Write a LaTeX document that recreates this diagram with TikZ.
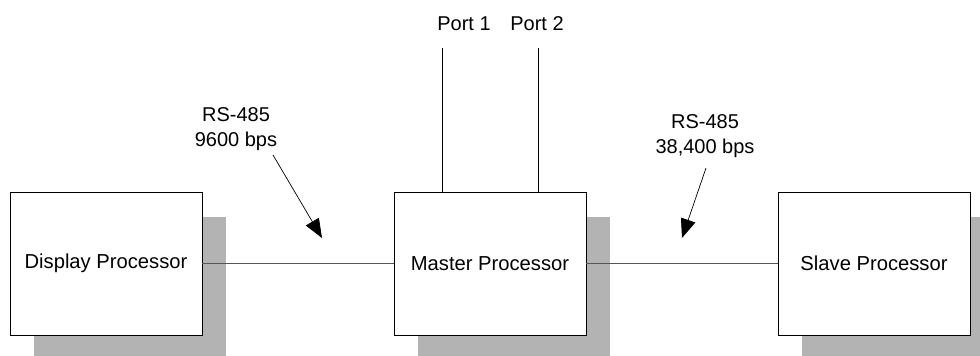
\documentclass[tikz,border=0pt]{standalone}
\usepackage{fontspec}
\setmainfont{Liberation Sans}
\usetikzlibrary{shadows,calc,arrows.meta}
\definecolor{shadowgray}{HTML}{B3B3B3}
\definecolor{linkgray}{HTML}{555555}
\begin{document}
\begin{tikzpicture}[x=1pt,y=-1pt,
  procbox/.style={draw=black,line width=0.8pt,fill=white,minimum width=192pt,minimum height=143pt,inner sep=0pt,
    font=\fontsize{20.2}{25}\selectfont,
    drop shadow={shadow xshift=24pt,shadow yshift=-25pt,fill=shadowgray,opacity=1}},
  link/.style={draw=linkgray,line width=1.1pt},
  portline/.style={draw=black,line width=0.8pt},
  lbl/.style={inner sep=0pt,align=center,font=\fontsize{20}{25}\selectfont},
  pointer/.style={draw=black,line width=0.7pt,-{Triangle[length=19pt,width=15pt]}}
]
\clip (0,0) rectangle (980,356);
\fill[white] (0,0) rectangle (980,356);
\node[procbox] (d) at (106,263.5) {Display Processor};
\node[procbox] (m) at (490,263.5) {Master Processor};
\node[procbox] (s) at (874,263.5) {Slave Processor};
\draw[link] (d.east) -- (m.west);
\draw[link] (m.east) -- (s.west);
\coordinate (p1) at (442,48);
\coordinate (p2) at (538,48);
\draw[portline] (m.north -| p1) -- (p1);
\draw[portline] (m.north -| p2) -- (p2);
\node[lbl] (l1) at (464,23.5) {Port 1};
\node[lbl] (l2) at (537,23.5) {Port 2};
\node[lbl] (r1) at (236,129) {RS-485\\9600 bps};
\node[lbl] (r2) at (705,136.5) {RS-485\\38,400 bps};
\coordinate (a1s) at (273,155);
\coordinate (a1e) at (322,238);
\coordinate (a2s) at (706,168);
\coordinate (a2e) at (682,238);
\draw[pointer] (a1s) -- (a1e);
\draw[pointer] (a2s) -- (a2e);
\end{tikzpicture}
\end{document}
